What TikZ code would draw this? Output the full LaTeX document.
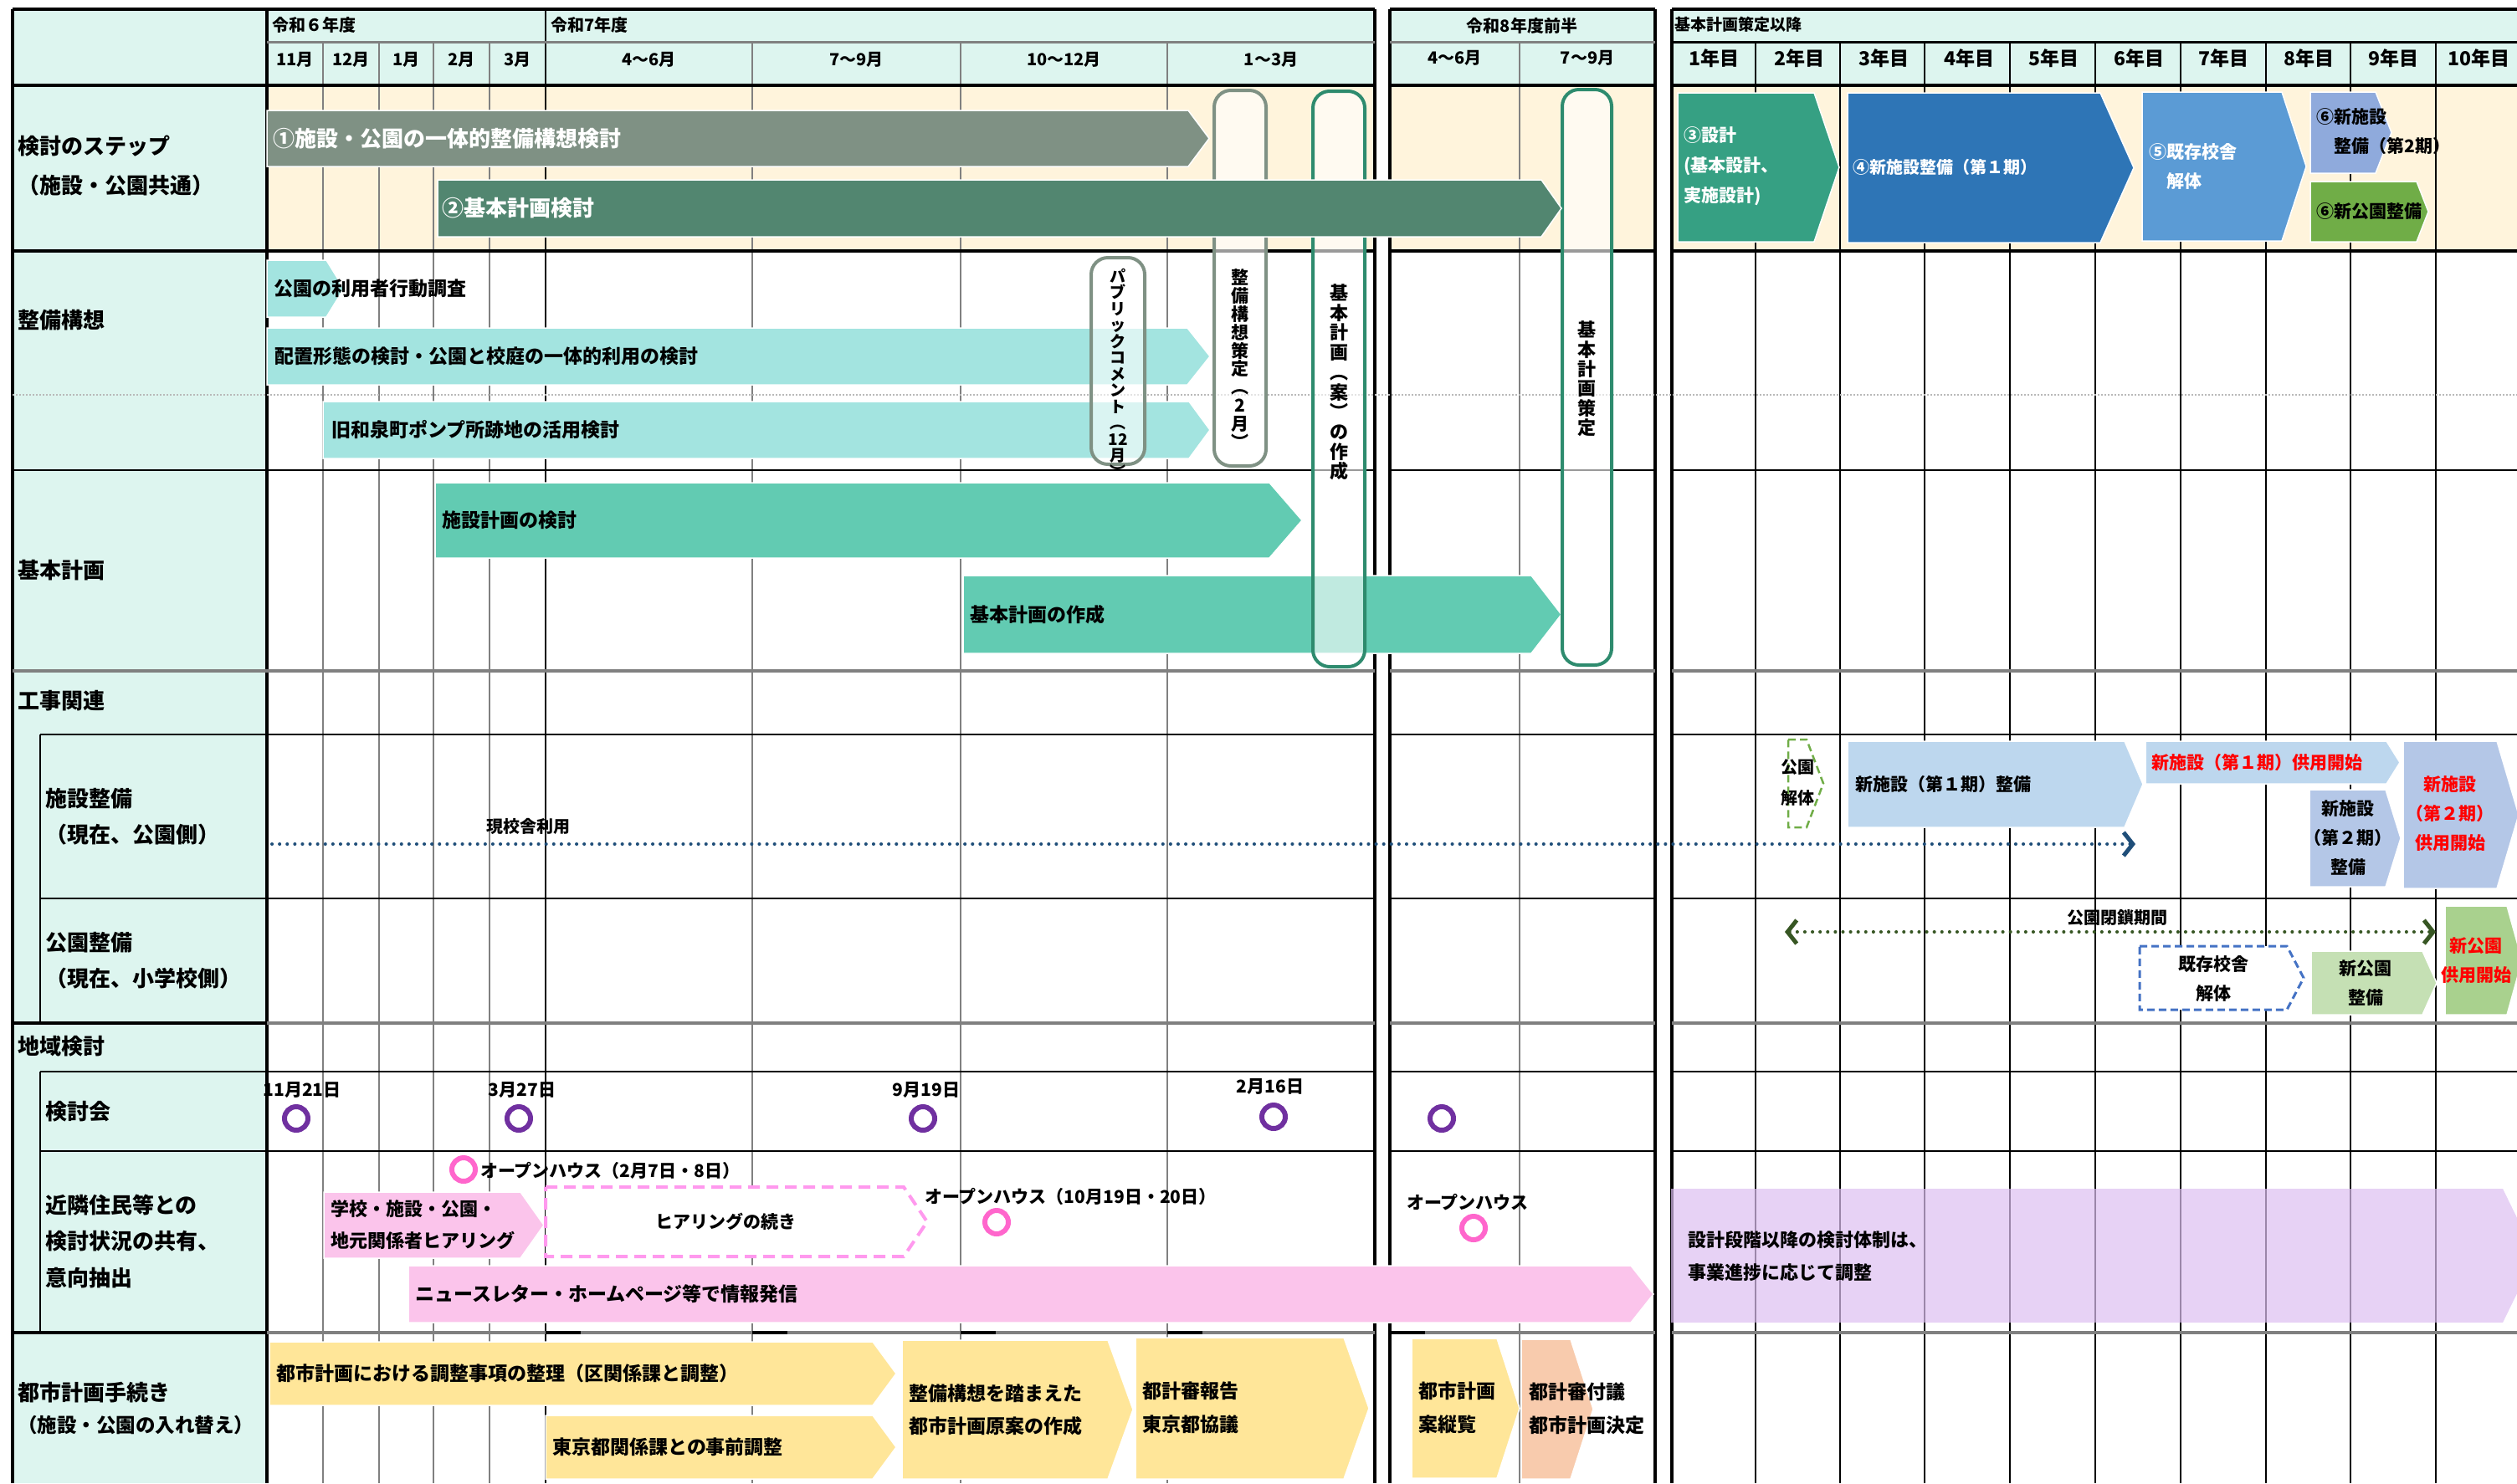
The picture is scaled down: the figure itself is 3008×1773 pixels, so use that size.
\documentclass[tikz,border=0pt]{standalone}
\usepackage{fontspec}
\setmainfont{Noto Sans CJK JP}
\usepackage{xcolor}
\usetikzlibrary{arrows.meta, positioning}

\definecolor{mint}{HTML}{DDF5EF}
\definecolor{cream}{HTML}{FFF4DC}
\definecolor{stepA}{HTML}{7F9184}
\definecolor{stepB}{HTML}{528670}
\definecolor{boxgreen}{HTML}{2E8B6E}
\definecolor{design}{HTML}{36A083}
\definecolor{build}{HTML}{2E75B6}
\definecolor{demol}{HTML}{5B9BD5}
\definecolor{buildII}{HTML}{8FAADC}
\definecolor{parkG}{HTML}{70AD47}
\definecolor{cyanbar}{HTML}{A3E4E0}
\definecolor{tealbar}{HTML}{62CBB2}
\definecolor{lblue}{HTML}{BDD7EE}
\definecolor{lblueII}{HTML}{B4C7E7}
\definecolor{lgreen}{HTML}{C5E0B4}
\definecolor{mgreen}{HTML}{A9D18E}
\definecolor{pinkbar}{HTML}{FBC4EB}
\definecolor{pinkdash}{HTML}{FF99EE}
\definecolor{pinkring}{HTML}{FF66CC}
\definecolor{purplering}{HTML}{7030A0}
\definecolor{yelbar}{HTML}{FFE699}
\definecolor{salmon}{HTML}{F8CBAD}
\definecolor{lavender}{HTML}{DDBFF1}
\definecolor{navy}{HTML}{1F4E79}
\definecolor{dgreen}{HTML}{375623}
\definecolor{gridgray}{HTML}{808080}
\definecolor{dashblue}{HTML}{4472C4}
\definecolor{redtxt}{HTML}{FF0000}

\newcommand{\fs}[2]{\fontsize{#1}{#2}\selectfont\bfseries}
% 五角形の矢印バー: 様式, x1, y1, x2, y2, 先端x
\newcommand{\pbar}[6]{\path[#1] (#2,#3) -- (#4,#3) -- (#6,{(#3+#5)/2}) -- (#4,#5) -- (#2,#5) -- cycle;}

\tikzset{
  lbl/.style={anchor=west, inner sep=0pt, font=\fs{26}{30}},
  hdr/.style={inner sep=0pt, font=\fs{20}{24}},
  bartxt/.style={anchor=west, inner sep=0pt, font=\fs{23}{27}},
  smalltxt/.style={inner sep=0pt, font=\fs{21}{25}},
  vtxt/.style={inner sep=0pt, align=center},
  frame/.style={black, line width=3.5pt},
  gline/.style={gridgray, line width=2.5pt},
  sepline/.style={gridgray, line width=4pt},
  bline/.style={black, line width=2pt},
  barw/.style={fill=#1, draw=white, line width=1.5pt},
  dashbar/.style={fill=white, draw=#1, line width=3pt, dash pattern=on 9pt off 5pt},
  milestone/.style={draw=#1, line width=4pt, rounded corners=20pt, fill=white, fill opacity=0.6},
  ring/.style={circle, draw=#1, line width=6pt, minimum size=28pt, inner sep=0pt},
  dotline/.style={line width=4pt, line cap=round, dash pattern=on 0.1pt off 9pt}
}

\begin{document}
\begin{tikzpicture}[x=1pt, y=-1pt, >={Straight Barb[length=11pt,width=28pt,line width=5pt]}]
    \useasboundingbox (0,0) rectangle (3008,1773);

    % 背景
    \fill[mint] (15,11) rectangle (319,1773);
    \fill[mint] (319,11) rectangle (1643,102);
    \fill[mint] (1661,11) rectangle (1978,102);
    \fill[mint] (1998,11) rectangle (3008,102);
    \fill[cream] (319,102) rectangle (1643,300);
    \fill[cream] (1661,102) rectangle (1978,300);
    \fill[cream] (1998,102) rectangle (3008,300);

    % 縦線
    \foreach \x in {386,453,518,585,899,1148,1395,1816}
        \draw[gline] (\x,50) -- (\x,1773);
    \foreach \x in {2098,2199,2300,2402,2504,2606,2708,2809,2911}
        \draw[bline] (\x,50) -- (\x,1773);
    \draw[bline] (652,11) -- (652,1773);
    \foreach \x in {15,319,1643,1661,1978,1998}
        \draw[frame] (\x,11) -- (\x,1773);
    \draw[bline] (48,878) -- (48,1223) (48,1281) -- (48,1593);

    % 横線
    \draw[frame] (15,11) -- (1643,11) (1661,11) -- (1978,11) (1998,11) -- (3008,11);
    \draw[gridgray, line width=3pt] (319,50) -- (1643,50) (1661,50) -- (1978,50);
    \draw[black, line width=3pt] (1998,50) -- (3008,50);
    \draw[frame, line width=4pt] (15,102) -- (1643,102) (1661,102) -- (1978,102) (1998,102) -- (3008,102);
    \draw[frame] (15,300) -- (1643,300) (1661,300) -- (1978,300) (1998,300) -- (3008,300);
    \draw[gray!55, line width=2.5pt, dash pattern=on 2pt off 2pt] (15,472) -- (3008,472);
    \draw[bline] (15,562) -- (1643,562) (1661,562) -- (1978,562) (1998,562) -- (3008,562);
    \draw[sepline] (15,802) -- (1643,802) (1661,802) -- (1978,802) (1998,802) -- (3008,802);
    \foreach \y in {878,1074,1281,1376}
        \draw[bline] (48,\y) -- (1643,\y) (1661,\y) -- (1978,\y) (1998,\y) -- (3008,\y);
    \foreach \y in {1223,1593} {
        \draw[sepline] (319,\y) -- (1643,\y) (1661,\y) -- (1978,\y) (1998,\y) -- (3008,\y);
        \draw[frame] (15,\y) -- (319,\y);
    }
    \foreach \x in {652,899,1148,1395,1661}
        \draw[black, line width=4pt] (\x,1593) -- ++(42,0);

    % ヘッダー
    \node[hdr, anchor=west] (r6) at (325,30) {令和６年度};
    \node[hdr, anchor=west] (r7) at (658,30) {令和7年度};
    \node[hdr] (m11) at (352.5,71) {11月};
    \node[hdr] (m12) at (419.5,71) {12月};
    \node[hdr] (m1) at (485.5,71) {1月};
    \node[hdr] (m2) at (551.5,71) {2月};
    \node[hdr] (m3) at (618.5,71) {3月};
    \node[hdr] (q1) at (775.5,71) {4～6月};
    \node[hdr] (q2) at (1023.5,71) {7～9月};
    \node[hdr] (q3) at (1271.5,71) {10～12月};
    \node[hdr] (q4) at (1519,71) {1～3月};
    \node[hdr] (r8) at (1819,31) {令和8年度前半};
    \node[hdr] (r8a) at (1738.5,69) {4～6月};
    \node[hdr] (r8b) at (1897,69) {7～9月};
    \node[hdr, anchor=west, font=\fs{19}{23}] (after) at (2001,29) {基本計画策定以降};
    \foreach \i in {1,...,10}
        \node[hdr, font=\fs{23}{27}] (y\i) at ({1998+101.5*(\i-0.5)},70) {\i 年目};

    % 見出し列
    \node[lbl] (lstep) at (21,175) {検討のステップ};
    \node[lbl] (lstepb) at (21,222) {（施設・公園共通）};
    \node[lbl] (lplan) at (21,383) {整備構想};
    \node[lbl] (lbase) at (21,682) {基本計画};
    \node[lbl] (lwork) at (21,838) {工事関連};
    \node[lbl] (lfac) at (54,955) {施設整備};
    \node[lbl] (lfacb) at (54,998) {（現在、公園側）};
    \node[lbl] (lpark) at (54,1127) {公園整備};
    \node[lbl] (lparkb) at (54,1170) {（現在、小学校側）};
    \node[lbl] (larea) at (21,1251) {地域検討};
    \node[lbl] (lmeet) at (54,1329) {検討会};
    \node[lbl] (lres) at (54,1441) {近隣住民等との};
    \node[lbl] (lresb) at (54,1484) {検討状況の共有、};
    \node[lbl] (lresc) at (54,1528) {意向抽出};
    \node[lbl] (lcity) at (21,1665) {都市計画手続き};
    \node[lbl, font=\fs{23.5}{28}] (lcityb) at (21,1704) {（施設・公園の入れ替え）};

    % 基本計画策定以降のバー
    \pbar{barw=design}{2005}{111}{2168}{289}{2198}
    \pbar{barw=build}{2208}{111}{2510}{290}{2550}
    \pbar{barw=demol}{2560}{110}{2727}{288}{2756}
    \pbar{barw=buildII}{2761}{110}{2839}{207}{2858}
    \pbar{barw=parkG}{2761}{217}{2888}{289}{2902}

    % 整備構想・基本計画
    \pbar{barw=cyanbar}{319}{311}{390}{379}{411}
    \pbar{barw=cyanbar}{319}{392}{1419}{460}{1446}
    \pbar{barw=cyanbar}{386}{480}{1421}{548}{1446}
    \pbar{barw=tealbar}{520}{577}{1517}{667}{1556}
    \pbar{barw=tealbar}{1151}{688}{1830}{781}{1866}

    % 工事関連
    \pbar{dashbar=parkG, line width=2.5pt}{2137}{884}{2159}{989}{2179}
    \pbar{barw=lblue}{2208}{886}{2539}{989}{2561}
    \pbar{barw=lblue}{2564}{886}{2852}{937}{2868}
    \pbar{barw=lblueII}{2760}{944}{2851}{1060}{2869}
    \pbar{barw=lblueII}{2872}{886}{2984}{1062}{3010}
    \pbar{dashbar=dashblue}{2557}{1131}{2733}{1207}{2753}
    \pbar{barw=lgreen}{2762}{1137}{2895}{1213}{2912}
    \pbar{barw=mgreen}{2922}{1083}{2996}{1213}{3014}

    % 地域検討
    \pbar{barw=pinkbar}{387}{1425}{622}{1504}{650}
    \pbar{fill=white, draw=pinkdash, line width=4pt, dash pattern=on 14pt off 8pt}{652}{1419}{1080}{1502}{1108}
    \pbar{barw=pinkbar}{488}{1513}{1949}{1581}{1976}
    \pbar{fill=lavender, fill opacity=0.7}{1997}{1421}{2991}{1581}{3030}

    % 都市計画手続き
    \pbar{barw=yelbar}{322}{1604}{1043}{1680}{1071}
    \pbar{barw=yelbar}{652}{1692}{1043}{1768}{1071}
    \pbar{barw=yelbar}{1078}{1602}{1324}{1768}{1354}
    \pbar{barw=yelbar}{1357}{1599}{1606}{1768}{1636}
    \pbar{barw=yelbar}{1687}{1600}{1789}{1767}{1816}
    \pbar{barw=salmon}{1818}{1601}{1877}{1768}{1904}

    % 策定の節目
    \draw[milestone=stepA] (1304,308) rectangle (1368,555);
    \draw[milestone=stepA] (1451,108) rectangle (1513,557);
    \draw[milestone=boxgreen] (1569,109) rectangle (1631,797);
    \draw[milestone=boxgreen] (1867,107) rectangle (1926,795);

    % 検討のステップ
    \pbar{barw=stepA}{319}{132}{1420}{199}{1445}
    \pbar{barw=stepB}{523}{215}{1842}{283}{1866}

    % バーの文字
    \node[lbl, white] (s1) at (326,166) {①施設・公園の一体的整備構想検討};
    \node[lbl, white] (s2) at (528,249) {②基本計画検討};
    \node[smalltxt, white, anchor=west, align=left, font=\fs{21}{36}] (s3) at (2012,199) {③設計\\(基本設計、\\実施設計)};
    \node[smalltxt, white, anchor=west, font=\fs{20}{24}] (s4) at (2214,200) {④新施設整備（第１期）};
    \node[smalltxt, white, anchor=west, align=left, font=\fs{21}{35}] (s5) at (2568,199) {⑤既存校舎\\　解体};
    \node[smalltxt, anchor=west, align=left, font=\fs{21}{35}] (s6) at (2768,157) {⑥新施設\\　整備（第2期）};
    \node[smalltxt, anchor=west] (s6b) at (2768,253) {⑥新公園整備};

    \node[bartxt] (p1) at (327,345) {公園の利用者行動調査};
    \node[bartxt] (p2) at (328,426) {配置形態の検討・公園と校庭の一体的利用の検討};
    \node[bartxt] (p3) at (396,514) {旧和泉町ポンプ所跡地の活用検討};
    \node[bartxt] (b1) at (528,622) {施設計画の検討};
    \node[bartxt] (b2) at (1159,735) {基本計画の作成};

    \node[vtxt, font=\fs{19}{19.5}] (pc) at (1336,446) {パ\\ブ\\リ\\ッ\\ク\\コ\\メ\\ン\\ト\\︵\\12\\月\\︶};
    \node[vtxt, font=\fs{21}{21.8}] (ks) at (1482,429) {整\\備\\構\\想\\策\\定\\︵\\2\\月\\︶};
    \node[vtxt, font=\fs{22}{23.7}] (ka) at (1600,457) {基\\本\\計\\画\\︵\\案\\︶\\の\\作\\成};
    \node[vtxt, font=\fs{22}{23.4}] (kk) at (1896,453) {基\\本\\計\\画\\策\\定};

    % 工事関連の文字と矢印
    \node[smalltxt, font=\fs{20}{24}] (use) at (631,988) {現校舎利用};
    \coordinate (use0) at (325,1009);
    \coordinate (use1) at (2552,1009);
    \draw[navy, dotline, ->] (use0) -- (use1);
    \node[smalltxt, align=center, font=\fs{20}{37}] (pk) at (2148,936) {公園\\解体};
    \node[smalltxt, anchor=west] (f1) at (2217,937) {新施設（第１期）整備};
    \node[smalltxt, anchor=west, redtxt] (f1o) at (2571,911) {新施設（第１期）供用開始};
    \node[smalltxt, align=center, font=\fs{21}{35}] (f2) at (2806,1002) {新施設\\（第２期）\\整備};
    \node[smalltxt, align=center, redtxt, font=\fs{21}{35}] (f2o) at (2928,973) {新施設\\（第２期）\\供用開始};
    \node[smalltxt, font=\fs{20}{24}] (close) at (2530,1097) {公園閉鎖期間};
    \coordinate (close0) at (2133,1114);
    \coordinate (close1) at (2911,1114);
    \draw[dgreen, dotline, <->] (close0) -- (close1);
    \node[smalltxt, align=center, font=\fs{21}{35}] (demo) at (2645,1170) {既存校舎\\解体};
    \node[smalltxt, align=center, font=\fs{21}{35}] (np) at (2827,1175) {新公園\\整備};
    \node[smalltxt, align=center, redtxt, font=\fs{21}{35}] (npo) at (2959,1148) {新公園\\供用開始};

    % 検討会
    \foreach \n/\x/\y in {k1/354/1337, k2/620/1337, k3/1103/1337, k4/1522/1335, k5/1723/1337}
        \node[ring=purplering] (\n) at (\x,\y) {};
    \node[smalltxt] (d1) at (361,1303) {11月21日};
    \node[smalltxt] (d2) at (624,1303) {3月27日};
    \node[smalltxt] (d3) at (1107,1303) {9月19日};
    \node[smalltxt] (d4) at (1518,1299) {2月16日};

    % 近隣住民等との共有
    \foreach \n/\x/\y in {o1/554/1398, o2/1191/1461, o3/1761/1468}
        \node[ring=pinkring] (\n) at (\x,\y) {};
    \node[smalltxt, anchor=west] (oh1) at (574,1399) {オープンハウス（2月7日・8日）};
    \node[smalltxt, anchor=west] (oh2) at (1105,1430) {オープンハウス（10月19日・20日）};
    \node[smalltxt, anchor=west] (oh3) at (1681,1437) {オープンハウス};
    \node[bartxt, align=left, font=\fs{22}{38}] (h1) at (395,1464) {学校・施設・公園・\\地元関係者ヒアリング};
    \node[smalltxt] (h2) at (867,1460) {ヒアリングの続き};
    \node[bartxt] (news) at (496,1547) {ニュースレター・ホームページ等で情報発信};
    \node[bartxt, align=left, font=\fs{22}{39}] (later) at (2017,1502) {設計段階以降の検討体制は、\\事業進捗に応じて調整};

    % 都市計画手続き
    \node[bartxt] (c1) at (330,1642) {都市計画における調整事項の整理（区関係課と調整）};
    \node[bartxt] (c2) at (660,1730) {東京都関係課との事前調整};
    \node[bartxt, align=left, font=\fs{23}{39}] (c3) at (1086,1685) {整備構想を踏まえた\\都市計画原案の作成};
    \node[bartxt, align=left, font=\fs{23}{40}] (c4) at (1365,1683) {都計審報告\\東京都協議};
    \node[bartxt, align=left, font=\fs{23}{40}] (c5) at (1695,1683) {都市計画\\案縦覧};
    \node[bartxt, align=left, font=\fs{23}{40}] (c6) at (1827,1684) {都計審付議\\都市計画決定};
\end{tikzpicture}
\end{document}
